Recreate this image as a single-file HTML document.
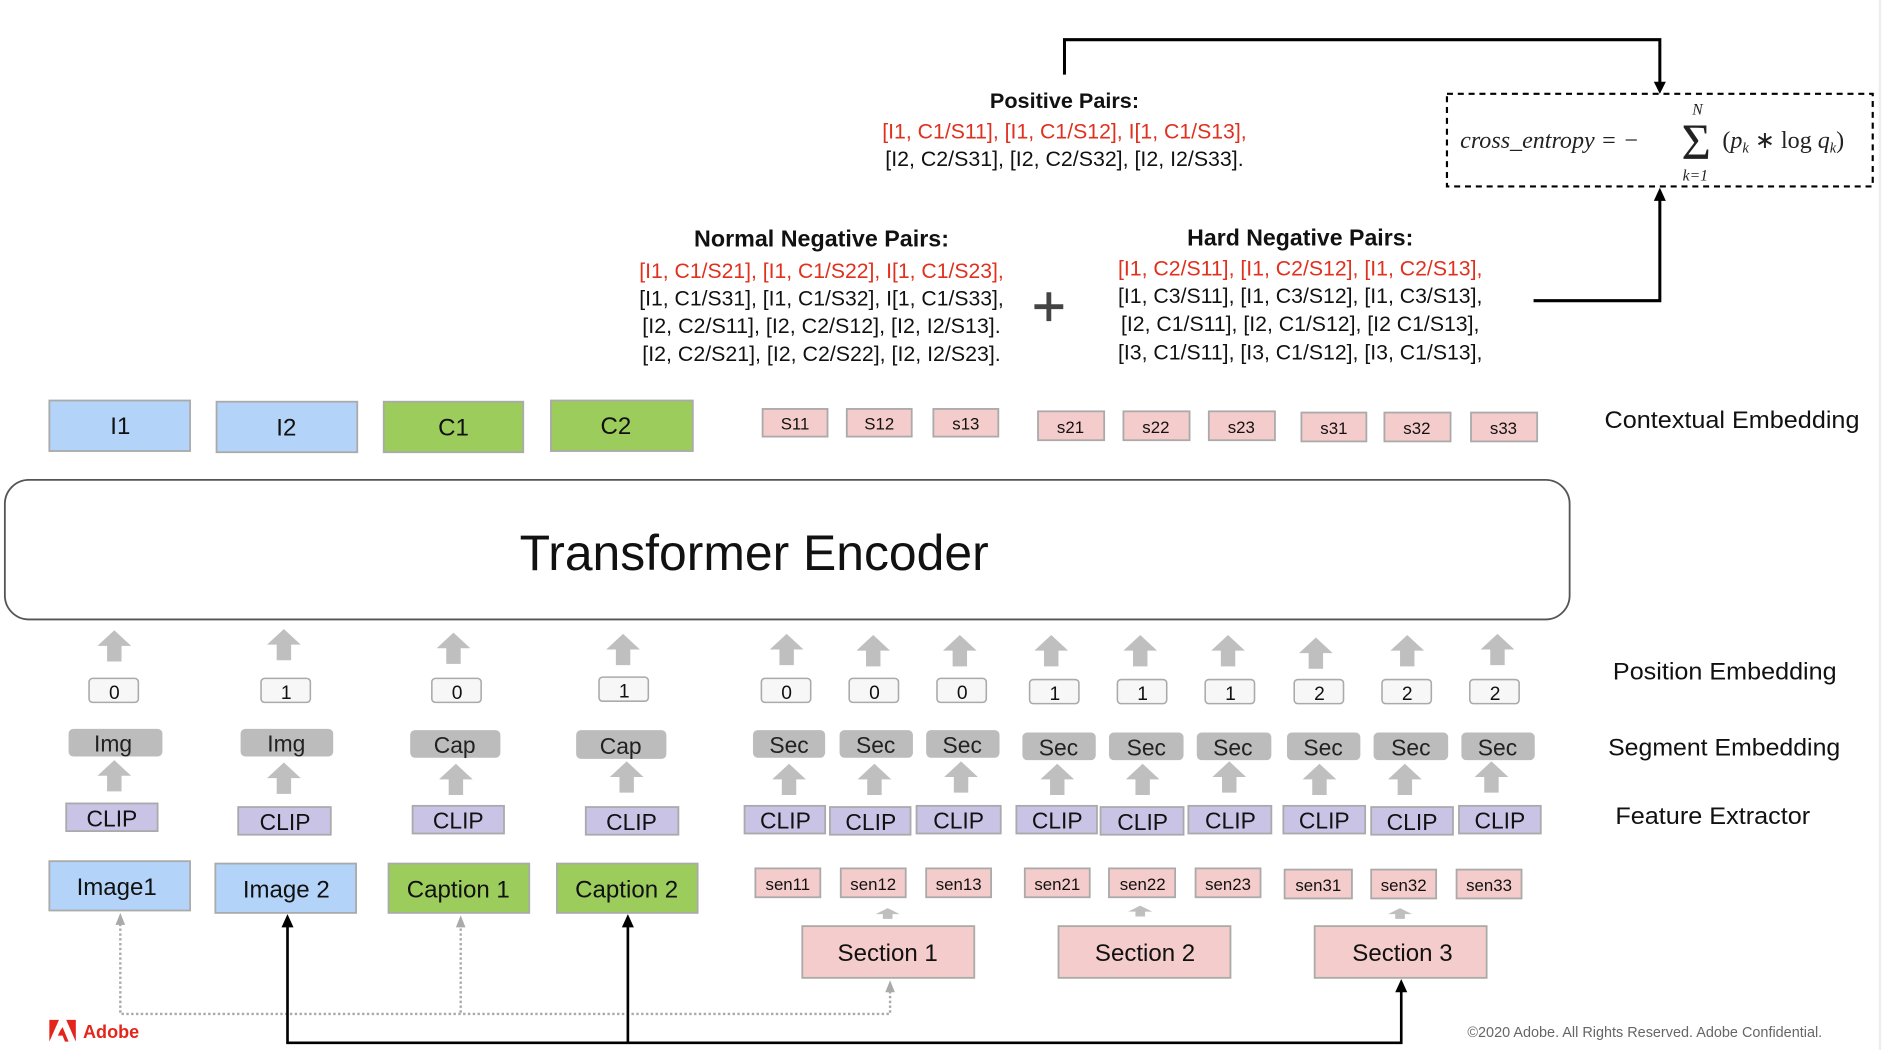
<!DOCTYPE html>
<html><head><meta charset="utf-8"><style>
html,body{margin:0;padding:0;background:#fff}
svg{display:block}
text{font-family:"Liberation Sans Narrow","Liberation Sans",sans-serif}
</style></head><body>
<svg width="1886" height="1050" viewBox="0 0 1568 873" xmlns="http://www.w3.org/2000/svg">
<defs>
<polygon id="ua" points="0,0 14,13 6,13 6,26 -6,26 -6,13 -14,13" fill="#bfbfbf"/>
</defs>
<line x1="1563" y1="0" x2="1563" y2="873" stroke="#eee" stroke-width="2"/>

<!-- top connector -->
<polyline points="885,62 885,33 1380,33 1380,70" fill="none" stroke="#000" stroke-width="2.5"/>
<polygon points="1375,68 1385,68 1380,78" fill="#000"/>
<polyline points="1275,250 1380,250 1380,165" fill="none" stroke="#000" stroke-width="2.5"/>
<polygon points="1375,167 1385,167 1380,156" fill="#000"/>

<!-- formula -->
<rect x="1203" y="78" width="354" height="77" fill="none" stroke="#000" stroke-width="1.8" stroke-dasharray="5,4"/>
<g fill="#222">
<text x="1214" y="123" font-size="20" font-style="italic" style="font-family:'Liberation Serif',serif">cross_entropy = −</text>
<text x="1398" y="132" font-size="42" style="font-family:'Liberation Serif',serif">Σ</text>
<text x="1407" y="95" font-size="13" font-style="italic" style="font-family:'Liberation Serif',serif">N</text>
<text x="1399" y="150" font-size="13" font-style="italic" style="font-family:'Liberation Serif',serif">k=1</text>
<text x="1432" y="123" font-size="20" style="font-family:'Liberation Serif',serif">(<tspan font-style="italic">p</tspan><tspan font-size="12" font-style="italic" dy="4">k</tspan><tspan dy="-4"> ∗ log </tspan><tspan font-style="italic">q</tspan><tspan font-size="12" font-style="italic" dy="4">k</tspan><tspan dy="-4">)</tspan></text>
</g>

<!-- pairs -->
<g font-size="18" text-anchor="middle">
<text x="885" y="90" font-weight="bold" fill="#111" textLength="124" lengthAdjust="spacingAndGlyphs">Positive Pairs:</text>
<text x="885" y="115" fill="#e0301e" textLength="303" lengthAdjust="spacingAndGlyphs">[I1, C1/S11], [I1, C1/S12], I[1, C1/S13],</text>
<text x="885" y="138" fill="#111" textLength="298" lengthAdjust="spacingAndGlyphs">[I2, C2/S31], [I2, C2/S32], [I2, I2/S33].</text>

<text x="683" y="205" font-weight="bold" fill="#111" font-size="19" textLength="212" lengthAdjust="spacingAndGlyphs">Normal Negative Pairs:</text>
<text x="683" y="231" fill="#e0301e" textLength="303" lengthAdjust="spacingAndGlyphs">[I1, C1/S21], [I1, C1/S22], I[1, C1/S23],</text>
<text x="683" y="254" fill="#111" textLength="303" lengthAdjust="spacingAndGlyphs">[I1, C1/S31], [I1, C1/S32], I[1, C1/S33],</text>
<text x="683" y="277" fill="#111" textLength="298" lengthAdjust="spacingAndGlyphs">[I2, C2/S11], [I2, C2/S12], [I2, I2/S13].</text>
<text x="683" y="300" fill="#111" textLength="298" lengthAdjust="spacingAndGlyphs">[I2, C2/S21], [I2, C2/S22], [I2, I2/S23].</text>

<text x="1081" y="204" font-weight="bold" fill="#111" font-size="19" textLength="188" lengthAdjust="spacingAndGlyphs">Hard Negative Pairs:</text>
<text x="1081" y="229" fill="#e0301e" textLength="303" lengthAdjust="spacingAndGlyphs">[I1, C2/S11], [I1, C2/S12], [I1, C2/S13],</text>
<text x="1081" y="252" fill="#111" textLength="303" lengthAdjust="spacingAndGlyphs">[I1, C3/S11], [I1, C3/S12], [I1, C3/S13],</text>
<text x="1081" y="275" fill="#111" textLength="298" lengthAdjust="spacingAndGlyphs">[I2, C1/S11], [I2, C1/S12], [I2 C1/S13],</text>
<text x="1081" y="299" fill="#111" textLength="303" lengthAdjust="spacingAndGlyphs">[I3, C1/S11], [I3, C1/S12], [I3, C1/S13],</text>
</g>
<path d="M872,243 V267 M860,255 H884" stroke="#444" stroke-width="4"/>

<!-- contextual embedding row -->
<g stroke="#aaa" stroke-width="1.5">
<rect x="41" y="333" width="117" height="42" fill="#b4d3f8"/>
<rect x="180" y="334" width="117" height="42" fill="#b4d3f8"/>
<rect x="319" y="334" width="116" height="42" fill="#9ccc5c"/>
<rect x="458" y="333" width="118" height="42" fill="#9ccc5c"/>
<g fill="#f4cccb">
<rect x="634" y="340" width="54" height="23"/><rect x="704" y="340" width="54" height="23"/><rect x="776" y="340" width="54" height="23"/>
<rect x="863" y="342" width="55" height="24"/><rect x="934" y="342" width="55" height="24"/><rect x="1005" y="342" width="55" height="24"/>
<rect x="1082" y="343" width="54" height="24"/><rect x="1151" y="343" width="55" height="24"/><rect x="1223" y="343" width="55" height="24"/>
</g>
</g>
<g text-anchor="middle" fill="#111">
<text x="100" y="361" font-size="20">I1</text>
<text x="238" y="362" font-size="20">I2</text>
<text x="377" y="362" font-size="20">C1</text>
<text x="512" y="361" font-size="20">C2</text>
<g font-size="14">
<text x="661" y="357">S11</text><text x="731" y="357">S12</text><text x="803" y="357">s13</text>
<text x="890" y="360">s21</text><text x="961" y="360">s22</text><text x="1032" y="360">s23</text>
<text x="1109" y="361">s31</text><text x="1178" y="361">s32</text><text x="1250" y="361">s33</text>
</g>
</g>
<text x="1334" y="356" font-size="20" fill="#111" textLength="212" lengthAdjust="spacingAndGlyphs">Contextual Embedding</text>

<!-- transformer -->
<rect x="4" y="399" width="1301" height="116" rx="20" fill="#fff" stroke="#555" stroke-width="1.5"/>
<text x="627" y="474" font-size="42" text-anchor="middle" fill="#111" textLength="390" lengthAdjust="spacingAndGlyphs">Transformer Encoder</text>

<!-- up arrows -->
<g>
<use href="#ua" x="95" y="524"/><use href="#ua" x="236" y="523"/><use href="#ua" x="377" y="526"/><use href="#ua" x="518" y="527"/>
<use href="#ua" x="654" y="527"/><use href="#ua" x="726" y="528"/><use href="#ua" x="798" y="528"/>
<use href="#ua" x="874" y="528"/><use href="#ua" x="948" y="528"/><use href="#ua" x="1021" y="528"/>
<use href="#ua" x="1094" y="530"/><use href="#ua" x="1170" y="528"/><use href="#ua" x="1245" y="527"/>
<use href="#ua" x="95" y="632"/><use href="#ua" x="236" y="634"/><use href="#ua" x="379" y="635"/><use href="#ua" x="521" y="633"/>
<use href="#ua" x="656" y="635"/><use href="#ua" x="727" y="635"/><use href="#ua" x="799" y="633"/>
<use href="#ua" x="879" y="635"/><use href="#ua" x="950" y="635"/><use href="#ua" x="1022" y="633"/>
<use href="#ua" x="1097" y="635"/><use href="#ua" x="1168" y="635"/><use href="#ua" x="1240" y="633"/>
</g>

<!-- position boxes -->
<g fill="#f7f7f7" stroke="#aaa" stroke-width="1.3">
<rect x="74" y="564" width="41" height="20" rx="3"/><rect x="217" y="564" width="41" height="20" rx="3"/>
<rect x="359" y="564" width="41" height="20" rx="3"/><rect x="498" y="563" width="41" height="20" rx="3"/>
<rect x="633" y="564" width="41" height="20" rx="3"/><rect x="706" y="564" width="41" height="20" rx="3"/><rect x="779" y="564" width="41" height="20" rx="3"/>
<rect x="856" y="565" width="41" height="20" rx="3"/><rect x="929" y="565" width="41" height="20" rx="3"/><rect x="1002" y="565" width="41" height="20" rx="3"/>
<rect x="1076" y="565" width="41" height="20" rx="3"/><rect x="1149" y="565" width="41" height="20" rx="3"/><rect x="1222" y="565" width="41" height="20" rx="3"/>
</g>
<g font-size="16" text-anchor="middle" fill="#111">
<text x="95" y="581">0</text><text x="238" y="581">1</text><text x="380" y="581">0</text><text x="519" y="580">1</text>
<text x="654" y="581">0</text><text x="727" y="581">0</text><text x="800" y="581">0</text>
<text x="877" y="582">1</text><text x="950" y="582">1</text><text x="1023" y="582">1</text>
<text x="1097" y="582">2</text><text x="1170" y="582">2</text><text x="1243" y="582">2</text>
</g>

<!-- segment -->
<g fill="#bcbcbc">
<rect x="57" y="606" width="78" height="23" rx="4"/><rect x="200" y="606" width="77" height="23" rx="4"/>
<rect x="341" y="607" width="75" height="23" rx="4"/><rect x="479" y="607" width="75" height="24" rx="4"/>
<rect x="626" y="607" width="60" height="23" rx="4"/><rect x="698" y="607" width="61" height="23" rx="4"/><rect x="770" y="607" width="61" height="23" rx="4"/>
<rect x="850" y="609" width="61" height="23" rx="4"/><rect x="922" y="609" width="62" height="23" rx="4"/><rect x="995" y="609" width="62" height="23" rx="4"/>
<rect x="1070" y="609" width="61" height="23" rx="4"/><rect x="1142" y="609" width="62" height="23" rx="4"/><rect x="1215" y="609" width="61" height="23" rx="4"/>
</g>
<g font-size="19" text-anchor="middle" fill="#222">
<text x="94" y="625">Img</text><text x="238" y="625">Img</text><text x="378" y="626">Cap</text><text x="516" y="627">Cap</text>
<text x="656" y="626">Sec</text><text x="728" y="626">Sec</text><text x="800" y="626">Sec</text>
<text x="880" y="628">Sec</text><text x="953" y="628">Sec</text><text x="1025" y="628">Sec</text>
<text x="1100" y="628">Sec</text><text x="1173" y="628">Sec</text><text x="1245" y="628">Sec</text>
</g>

<!-- CLIP -->
<g fill="#c9c3e6" stroke="#aaa" stroke-width="1.5">
<rect x="55" y="668" width="76" height="23"/><rect x="198" y="671" width="77" height="23"/>
<rect x="343" y="670" width="76" height="23"/><rect x="487" y="671" width="77" height="23"/>
<rect x="619" y="670" width="67" height="23"/><rect x="690" y="671" width="67" height="23"/><rect x="762" y="670" width="70" height="23"/>
<rect x="845" y="670" width="67" height="23"/><rect x="915" y="671" width="69" height="23"/><rect x="988" y="670" width="69" height="23"/>
<rect x="1067" y="670" width="68" height="23"/><rect x="1140" y="671" width="68" height="23"/><rect x="1213" y="670" width="68" height="23"/>
</g>
<g font-size="19" text-anchor="middle" fill="#111">
<text x="93" y="687">CLIP</text><text x="237" y="690">CLIP</text><text x="381" y="689">CLIP</text><text x="525" y="690">CLIP</text>
<text x="653" y="689">CLIP</text><text x="724" y="690">CLIP</text><text x="797" y="689">CLIP</text>
<text x="879" y="689">CLIP</text><text x="950" y="690">CLIP</text><text x="1023" y="689">CLIP</text>
<text x="1101" y="689">CLIP</text><text x="1174" y="690">CLIP</text><text x="1247" y="689">CLIP</text>
</g>

<g font-size="20" fill="#111">
<text x="1341" y="565" textLength="186" lengthAdjust="spacingAndGlyphs">Position Embedding</text>
<text x="1337" y="628" textLength="193" lengthAdjust="spacingAndGlyphs">Segment Embedding</text>
<text x="1343" y="685" textLength="162" lengthAdjust="spacingAndGlyphs">Feature Extractor</text>
</g>

<!-- inputs -->
<g stroke="#aaa" stroke-width="1.5">
<rect x="41" y="716" width="117" height="41" fill="#b4d3f8"/>
<rect x="179" y="718" width="117" height="41" fill="#b4d3f8"/>
<rect x="323" y="718" width="117" height="41" fill="#9ccc5c"/>
<rect x="463" y="718" width="117" height="41" fill="#9ccc5c"/>
<g fill="#f4cccb">
<rect x="628" y="722" width="54" height="24"/><rect x="699" y="722" width="54" height="24"/><rect x="770" y="722" width="54" height="24"/>
<rect x="852" y="722" width="54" height="24"/><rect x="922" y="722" width="55" height="24"/><rect x="994" y="722" width="54" height="24"/>
<rect x="1068" y="723" width="56" height="24"/><rect x="1140" y="723" width="54" height="24"/><rect x="1211" y="723" width="54" height="24"/>
<rect x="667" y="770" width="143" height="43"/><rect x="880" y="770" width="143" height="43"/><rect x="1093" y="770" width="143" height="43"/>
</g>
</g>
<g text-anchor="middle" fill="#111">
<g font-size="20">
<text x="97" y="744">Image1</text><text x="238" y="746">Image 2</text><text x="381" y="746">Caption 1</text><text x="521" y="746">Caption 2</text>
<text x="738" y="799">Section 1</text><text x="952" y="799">Section 2</text><text x="1166" y="799">Section 3</text>
</g>
<g font-size="14">
<text x="655" y="740">sen11</text><text x="726" y="740">sen12</text><text x="797" y="740">sen13</text>
<text x="879" y="740">sen21</text><text x="950" y="740">sen22</text><text x="1021" y="740">sen23</text>
<text x="1096" y="741">sen31</text><text x="1167" y="741">sen32</text><text x="1238" y="741">sen33</text>
</g>
</g>
<g fill="#bfbfbf">
<polygon points="738,755 748,760 742,760 742,764 734,764 734,760 728,760"/>
<polygon points="948,753 958,758 952,758 952,762 944,762 944,758 938,758"/>
<polygon points="1164,755 1174,760 1168,760 1168,764 1160,764 1160,760 1154,760"/>
</g>

<!-- dotted connectors -->
<g fill="none" stroke="#aaa" stroke-width="2" stroke-dasharray="2,2">
<polyline points="100,768 100,843 740,843 740,824"/>
<line x1="383" y1="768" x2="383" y2="843"/>
</g>
<g fill="#aaa">
<polygon points="96,769 104,769 100,759"/><polygon points="379,771 387,771 383,761"/><polygon points="736,825 744,825 740,815"/>
</g>
<!-- solid connectors -->
<polyline points="239,770 239,867 1165,867 1165,824" fill="none" stroke="#000" stroke-width="2.2"/>
<line x1="522" y1="770" x2="522" y2="867" stroke="#000" stroke-width="2.2"/>
<g fill="#000">
<polygon points="234,771 244,771 239,760"/><polygon points="517,771 527,771 522,760"/><polygon points="1160,825 1170,825 1165,814"/>
</g>

<!-- footer -->
<g fill="#e3251b">
<polygon points="41,848 49,848 41,866"/><polygon points="55,848 63,848 63,866"/><polygon points="52,854 57,866 54,866 52,861 48,861 50,857"/>
</g>
<text x="69" y="863" font-size="15" font-weight="bold" fill="#e3251b">Adobe</text>
<text x="1220" y="862" font-size="12" fill="#666" textLength="295" lengthAdjust="spacingAndGlyphs">©2020 Adobe. All Rights Reserved. Adobe Confidential.</text>
</svg>
</body></html>
